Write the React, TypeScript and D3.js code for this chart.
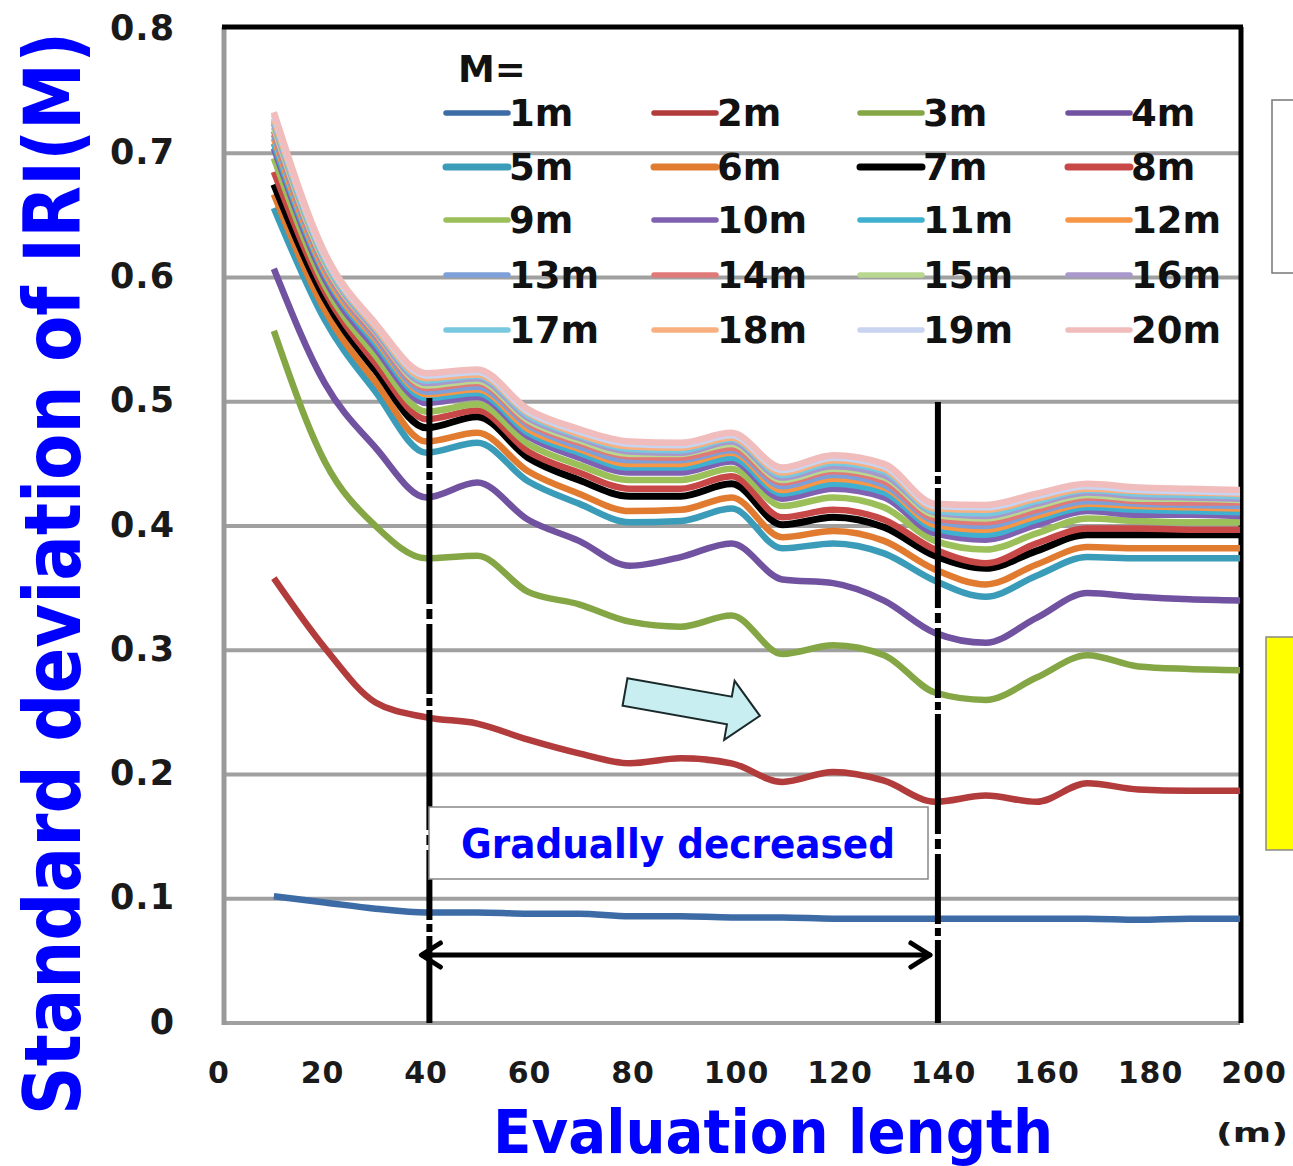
import React, { useEffect, useRef, useState } from 'react';
import * as d3 from 'd3';

// evaluation length (m)
const lengths = [10, 20, 30, 40, 50, 60, 70, 80, 90, 100, 110, 120, 130, 140, 150, 160, 170, 180, 190, 200];

// standard deviation of IRI(M), one array per M
const m1 = [0.102, 0.097, 0.092, 0.089, 0.089, 0.088, 0.088, 0.086, 0.086, 0.085, 0.085, 0.084, 0.084, 0.084, 0.084, 0.084, 0.084, 0.083, 0.084, 0.084];
const m2 = [0.358, 0.302, 0.258, 0.246, 0.241, 0.228, 0.217, 0.209, 0.213, 0.209, 0.194, 0.202, 0.195, 0.178, 0.183, 0.178, 0.193, 0.188, 0.187, 0.187];
const m3 = [0.557, 0.452, 0.4, 0.374, 0.376, 0.347, 0.337, 0.323, 0.319, 0.328, 0.297, 0.304, 0.296, 0.266, 0.26, 0.278, 0.296, 0.287, 0.285, 0.284];
const m4 = [0.607, 0.515, 0.463, 0.423, 0.435, 0.405, 0.388, 0.368, 0.375, 0.386, 0.357, 0.354, 0.34, 0.314, 0.306, 0.326, 0.346, 0.343, 0.341, 0.34];
const m5 = [0.656, 0.566, 0.508, 0.459, 0.467, 0.436, 0.418, 0.403, 0.404, 0.414, 0.382, 0.386, 0.378, 0.356, 0.343, 0.36, 0.375, 0.374, 0.374, 0.374];
const m6 = [0.667, 0.574, 0.516, 0.468, 0.475, 0.444, 0.426, 0.412, 0.413, 0.423, 0.391, 0.396, 0.388, 0.365, 0.353, 0.369, 0.383, 0.382, 0.382, 0.382];
const m7 = [0.675, 0.583, 0.525, 0.479, 0.488, 0.455, 0.437, 0.424, 0.424, 0.434, 0.401, 0.407, 0.399, 0.376, 0.366, 0.38, 0.393, 0.393, 0.393, 0.393];
const m8 = [0.685, 0.589, 0.531, 0.486, 0.493, 0.46, 0.443, 0.43, 0.43, 0.44, 0.407, 0.413, 0.405, 0.381, 0.37, 0.386, 0.398, 0.398, 0.397, 0.397];
const m9 = [0.696, 0.594, 0.537, 0.492, 0.498, 0.466, 0.449, 0.437, 0.437, 0.446, 0.416, 0.423, 0.415, 0.388, 0.381, 0.394, 0.406, 0.404, 0.403, 0.403];
const m10 = [0.704, 0.599, 0.543, 0.499, 0.504, 0.472, 0.455, 0.443, 0.443, 0.452, 0.422, 0.43, 0.423, 0.394, 0.389, 0.401, 0.412, 0.409, 0.409, 0.408];
const m11 = [0.708, 0.603, 0.547, 0.503, 0.507, 0.475, 0.459, 0.447, 0.447, 0.455, 0.426, 0.434, 0.427, 0.398, 0.393, 0.405, 0.415, 0.413, 0.412, 0.411];
const m12 = [0.712, 0.605, 0.55, 0.506, 0.51, 0.478, 0.462, 0.45, 0.45, 0.459, 0.429, 0.438, 0.431, 0.401, 0.397, 0.408, 0.418, 0.416, 0.415, 0.414];
const m13 = [0.715, 0.608, 0.552, 0.508, 0.512, 0.481, 0.464, 0.453, 0.453, 0.461, 0.432, 0.441, 0.433, 0.404, 0.4, 0.411, 0.42, 0.418, 0.417, 0.416];
const m14 = [0.718, 0.61, 0.554, 0.511, 0.515, 0.483, 0.467, 0.456, 0.455, 0.463, 0.435, 0.444, 0.436, 0.406, 0.403, 0.413, 0.423, 0.42, 0.419, 0.419];
const m15 = [0.721, 0.612, 0.556, 0.513, 0.517, 0.485, 0.469, 0.458, 0.458, 0.466, 0.437, 0.446, 0.439, 0.409, 0.406, 0.416, 0.425, 0.422, 0.422, 0.421];
const m16 = [0.724, 0.614, 0.557, 0.515, 0.519, 0.487, 0.471, 0.46, 0.459, 0.468, 0.439, 0.448, 0.441, 0.411, 0.408, 0.418, 0.427, 0.424, 0.423, 0.422];
const m17 = [0.726, 0.615, 0.559, 0.517, 0.521, 0.489, 0.473, 0.462, 0.461, 0.47, 0.441, 0.451, 0.444, 0.412, 0.41, 0.42, 0.429, 0.426, 0.425, 0.424];
const m18 = [0.728, 0.617, 0.56, 0.519, 0.522, 0.491, 0.474, 0.464, 0.463, 0.471, 0.443, 0.453, 0.446, 0.414, 0.413, 0.422, 0.43, 0.428, 0.427, 0.426];
const m19 = [0.731, 0.618, 0.562, 0.521, 0.524, 0.492, 0.476, 0.466, 0.465, 0.473, 0.445, 0.455, 0.448, 0.416, 0.415, 0.424, 0.432, 0.429, 0.428, 0.427];
const m20 = [0.733, 0.62, 0.563, 0.523, 0.526, 0.494, 0.478, 0.468, 0.467, 0.475, 0.447, 0.457, 0.45, 0.418, 0.417, 0.426, 0.434, 0.431, 0.43, 0.429];

const seriesNames = ['1m', '2m', '3m', '4m', '5m', '6m', '7m', '8m', '9m', '10m',
  '11m', '12m', '13m', '14m', '15m', '16m', '17m', '18m', '19m', '20m'];
const seriesValues = [m1, m2, m3, m4, m5, m6, m7, m8, m9, m10, m11, m12, m13, m14, m15, m16, m17, m18, m19, m20];
const seriesColors = ['#3d6ba6', '#b23b3b', '#84a644', '#7052a0', '#3a9cb8', '#e07b30', '#000000', '#c84848',
  '#9bc05a', '#8060b0', '#40b0d0', '#f79646', '#7ea0d8', '#e07a78', '#b8d890', '#a898cc',
  '#78c8e0', '#f8b080', '#c8d4f0', '#f0bcbc'];

const yTicks = [0, 0.1, 0.2, 0.3, 0.4, 0.5, 0.6, 0.7, 0.8];
const xTicks = [0, 20, 40, 60, 80, 100, 120, 140, 160, 180, 200];
const yGrid = [0.1, 0.2, 0.3, 0.4, 0.5, 0.6, 0.7];
const markerLengths = [40, 140];

const W = 1293;
const H = 1166;
const Y_TITLE_LEN = 1083;

export default function App() {
  const titleRef = useRef<SVGTextElement>(null);
  const [titleScale, setTitleScale] = useState(0.72);

  useEffect(() => {
    // squeeze the rotated title to the length it has in the original
    if (titleRef.current) {
      const w = titleRef.current.getComputedTextLength();
      if (w > 0) setTitleScale(Y_TITLE_LEN / w);
    }
  }, []);

  const x = d3.scaleLinear().domain([0, 200]).range([223, 1240]);
  const y = d3.scaleLinear().domain([0, 0.8]).range([1023, 29]);
  // tick labels sit a little wider than the plot in the original
  const xLabel = d3.scaleLinear().domain([0, 200]).range([219, 1254]);

  const line = d3.line<number>()
    .x((_, i) => x(lengths[i]))
    .y(d => y(d))
    .curve(d3.curveMonotoneX);

  const legendCols = [446, 654, 860, 1068];
  const legendRows = [113, 167, 220, 275, 330];

  const font = "'DejaVu Sans', Verdana, sans-serif";

  return (
    <svg width={W} height={H} style={{ position: 'absolute', left: 0, top: 0, background: '#fff' }}>
      <rect x={0} y={0} width={W} height={H} fill="#fff" />

      {/* gridlines */}
      {yGrid.map(t => (
        <line key={t} x1={x(0)} x2={x(200)} y1={y(t)} y2={y(t)} stroke="#a0a0a0" strokeWidth={4} />
      ))}

      {/* axes / frame */}
      <line x1={x(0)} x2={x(200)} y1={y(0)} y2={y(0)} stroke="#a0a0a0" strokeWidth={4} />
      <line x1={x(0) + 1} x2={x(0) + 1} y1={y(0.8) - 2} y2={y(0) + 2} stroke="#999" strokeWidth={5} />
      <line x1={x(0) - 1} x2={x(200) + 3} y1={y(0.8) - 2} y2={y(0.8) - 2} stroke="#000" strokeWidth={5} />
      <line x1={x(200) + 1} x2={x(200) + 1} y1={y(0.8) - 2} y2={y(0)} stroke="#000" strokeWidth={5} />

      {/* series */}
      {seriesValues.map((vals, i) => (
        <path key={seriesNames[i]} d={line(vals) || ''} fill="none" stroke={seriesColors[i]}
          strokeWidth={i === 6 ? 7 : 6.5} strokeLinejoin="round" />
      ))}

      {/* evaluation-length markers */}
      {markerLengths.map((m, i) => (
        <line key={m} x1={x(m) + 3} x2={x(m) + 3} y1={i === 0 ? 398 : 402} y2={y(0)}
          stroke="#000" strokeWidth={6} strokeDasharray="70 4 8 4 120 5 10 5" />
      ))}

      {/* y tick labels */}
      {yTicks.map(t => (
        <text key={t} x={175} y={y(t) - 2} dy="0.36em" textAnchor="end" fontFamily={font}
          fontWeight="bold" fontSize={35} fill="#1a1a1a" letterSpacing={1}>
          {t === 0 ? '0' : t.toFixed(1)}
        </text>
      ))}

      {/* x tick labels */}
      {xTicks.map(t => (
        <text key={t} x={xLabel(t)} y={1072} dy="0.36em" textAnchor="middle" fontFamily={font}
          fontWeight="bold" fontSize={30} fill="#1a1a1a" letterSpacing={1}>
          {t}
        </text>
      ))}

      {/* axis titles */}
      <g transform={`translate(80,1115) rotate(-90) scale(${titleScale},1)`}>
        <text ref={titleRef} x={0} y={0} fontFamily={font} fontWeight="bold"
          fontSize={78} fill="#0000ff">
          Standard deviation of IRI(M)
        </text>
      </g>
      <text x={493} y={1153} fontFamily={font} fontWeight="bold" fontSize={60} fill="#0000ff"
        textLength={560} lengthAdjust="spacingAndGlyphs">
        Evaluation length
      </text>
      <text x={1216} y={1142} fontFamily={font} fontWeight="bold" fontSize={26} fill="#1a1a1a"
        textLength={72} lengthAdjust="spacingAndGlyphs">
        (m)
      </text>

      {/* legend */}
      <text x={458} y={82} fontFamily={font} fontWeight="bold" fontSize={37} fill="#111">M=</text>
      {seriesNames.map((name, i) => {
        const cx = legendCols[i % 4];
        const cy = legendRows[Math.floor(i / 4)];
        return (
          <g key={name}>
            <line x1={cx} x2={cx + 62} y1={cy} y2={cy} stroke={seriesColors[i]}
              strokeWidth={i >= 4 && i <= 7 ? 7 : 5.5} strokeLinecap="round" />
            <text x={cx + 63} y={cy + 13} fontFamily={font} fontWeight="bold" fontSize={37} fill="#111">
              {name}
            </text>
          </g>
        );
      })}

      {/* annotation box */}
      <rect x={429} y={807} width={499} height={72} fill="#fff" stroke="#888" strokeWidth={1.5} />
      <text x={461} y={858} fontFamily={font} fontWeight="bold" fontSize={40} fill="#0000ff"
        textLength={434} lengthAdjust="spacingAndGlyphs">
        Gradually decreased
      </text>

      {/* double-headed arrow */}
      <g stroke="#000" strokeWidth={5} fill="none" strokeLinecap="round" strokeLinejoin="round">
        <line x1={x(40) - 4} x2={x(140) - 5} y1={955} y2={955} />
        <polyline points={`${x(40) + 14},${943} ${x(40) - 5},${955} ${x(40) + 14},${967}`} />
        <polyline points={`${x(140) - 24},${943} ${x(140) - 5},${955} ${x(140) - 24},${967}`} />
      </g>

      {/* light blue block arrow */}
      <g transform="translate(625,692) rotate(10)">
        <polygon points="0,-14 106,-14 106,-30 137,0 106,30 106,14 0,14"
          fill="#c8eef2" stroke="#1a2a2a" strokeWidth={2} strokeLinejoin="miter" />
      </g>

      {/* cut-off shapes at the right edge */}
      <rect x={1272} y={100} width={40} height={173} fill="#fff" stroke="#777" strokeWidth={1.5} />
      <rect x={1266} y={637} width={40} height={213} fill="#ffff00" stroke="#888" strokeWidth={1.5} />
    </svg>
  );
}
